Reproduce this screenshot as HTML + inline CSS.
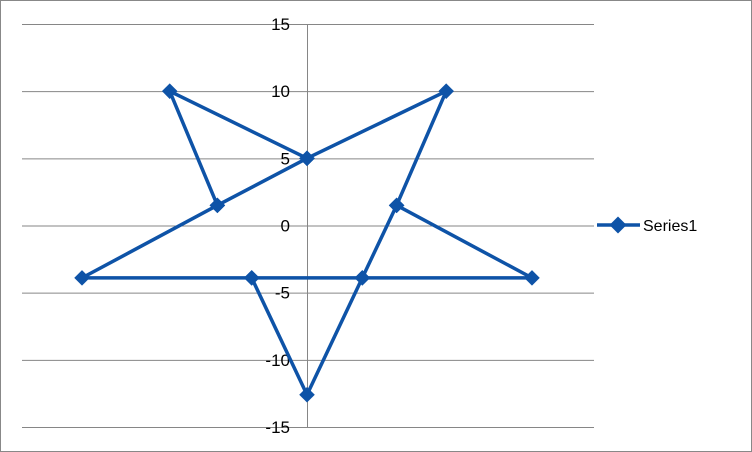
<!DOCTYPE html>
<html><head><meta charset="utf-8"><style>
body{margin:0;background:#fff;}
svg{display:block;font-family:"Liberation Sans",sans-serif;}
</style></head><body>
<svg id="chart" width="752" height="452">
<rect x="0.5" y="0.5" width="751" height="451" fill="#fff" stroke="#888"/>
<g id="grid"></g><g id="ylabels"></g><g id="series"></g>
<g>
<line x1="597" y1="225" x2="640" y2="225" stroke="#0e53a7" stroke-width="3.5"/>
<rect x="612" y="219" width="12" height="12" transform="rotate(45 618 225)" fill="#0e53a7"/>
<text x="643" y="231" font-size="16" fill="#000">Series1</text>
</g>
</svg>
<script>
const yTicks=[-15,-10,-5,0,5,10,15];
const xVals=[-2.9,0,2.9,-2.9,-11.8,-4.7,0,-7.2,-4.7,0,7.3,4.7,2.9,11.8,4.7];
const yVals=[-3.9,-12.6,-3.9,-3.9,-3.9,1.5,5,10,1.5,5,10,1.5,-3.9,-3.9,1.5];
const NS='http://www.w3.org/2000/svg';
const X0=22,X1=594,Y0=24,Y1=427;
const xs=v=>307+v*(X1-X0)/30;
const ys=v=>Y1-(v+15)*(Y1-Y0)/30;
const grid=document.getElementById('grid'),yl=document.getElementById('ylabels'),ser=document.getElementById('series');
yTicks.forEach(t=>{
 const l=document.createElementNS(NS,'line');
 l.setAttribute('x1',X0);l.setAttribute('x2',X1);l.setAttribute('y1',ys(t)+0.5);l.setAttribute('y2',ys(t)+0.5);
 l.setAttribute('stroke','#868686');l.setAttribute('stroke-width','1');
 
 
 grid.appendChild(l);
 const tx=document.createElementNS(NS,'text');
 tx.setAttribute('x',290);tx.setAttribute('y',ys(t)+6);tx.setAttribute('text-anchor','end');tx.setAttribute('font-size','17');
 tx.textContent=t;
 
 
 yl.appendChild(tx);
});
const ax=document.createElementNS(NS,'line');
ax.setAttribute('x1',307.5);ax.setAttribute('x2',307.5);ax.setAttribute('y1',Y0);ax.setAttribute('y2',Y1);ax.setAttribute('stroke','#868686');


grid.appendChild(ax);
const pl=document.createElementNS(NS,'polyline');
pl.setAttribute('points',xVals.map((x,i)=>xs(x)+','+ys(yVals[i])).join(' '));
pl.setAttribute('fill','none');pl.setAttribute('stroke','#0e53a7');pl.setAttribute('stroke-width','3.5');pl.setAttribute('stroke-linejoin','round');


ser.appendChild(pl);
xVals.forEach((x,i)=>{
 const cx=xs(x),cy=ys(yVals[i]);
 const m=document.createElementNS(NS,'rect');
 m.setAttribute('x',cx-5.5);m.setAttribute('y',cy-5.5);m.setAttribute('width',11);m.setAttribute('height',11);
 m.setAttribute('transform','rotate(45 '+cx+' '+cy+')');m.setAttribute('fill','#0e53a7');
 
 
 ser.appendChild(m);
});
</script>
</body></html>
